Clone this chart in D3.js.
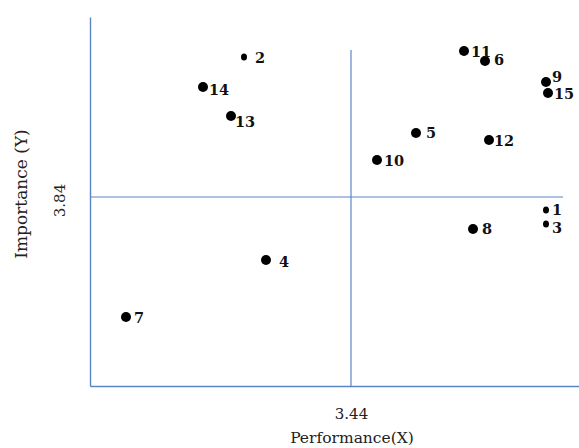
<!DOCTYPE html>
<html>
<head>
<meta charset="utf-8">
<script src="https://cdn.jsdelivr.net/npm/d3@7"></script>
<style>
  body { margin: 0; background: #fff; }
  svg { display: block; }
</style>
</head>
<body>
<svg id="chart"></svg>
<script>
// item numbers and their mean scores
const items       = ["1", "2", "3", "4", "5", "6", "7", "8", "9", "10", "11", "12", "13", "14", "15"];
const performance = [3.83, 3.226, 3.83, 3.27, 3.57, 3.708, 2.99, 3.684, 3.83, 3.492, 3.666, 3.716, 3.20, 3.144, 3.834];
const importance  = [3.814, 4.12, 3.786, 3.714, 3.968, 4.112, 3.60, 3.776, 4.07, 3.914, 4.132, 3.954, 4.002, 4.06, 4.048];
const meanX = 3.44;
const meanY = 3.84;
const xTickLabels = ["3.44"];
const yTickLabels = ["3.84"];

const width = 579, height = 448;
const axisColor = "#5b86c6";

const svg = d3.select("#chart")
    .attr("width", width)
    .attr("height", height);

const xscale = d3.scaleLinear()
    .domain([2.918, 3.896])
    .range([90, 579]);

const yscale = d3.scaleLinear()
    .domain([3.462, 4.2])
    .range([386, 17]);

const data = items.map((d, i) => ({ id: d, x: performance[i], y: importance[i] }));

// axes
const xaxis = d3.axisBottom(xscale)
    .tickValues([meanX])
    .tickFormat((d, i) => xTickLabels[i])
    .tickSize(0)
    .tickPadding(22);

const yaxis = d3.axisLeft(yscale)
    .tickValues([meanY])
    .tickFormat((d, i) => yTickLabels[i])
    .tickSize(0)
    .tickPadding(0);

const xg = svg.append("g")
    .attr("transform", `translate(0, ${yscale.range()[0]})`)
    .call(xaxis);

const yg = svg.append("g")
    .attr("transform", `translate(${xscale.range()[0]}, 0)`)
    .call(yaxis);

[xg, yg].forEach(g => {
    g.select(".domain").attr("stroke", axisColor).attr("stroke-width", 1.4);
    g.selectAll("text")
        .attr("font-family", "DejaVu Serif, serif")
        .attr("font-size", 15)
        .attr("fill", "#222");
});

yg.selectAll(".tick text")
    .attr("transform", "translate(-30, 3) rotate(-90)")
    .attr("text-anchor", "middle")
    .attr("x", 0)
    .attr("dy", "0.35em");

// quadrant lines
svg.append("line")
    .attr("x1", xscale(meanX)).attr("x2", xscale(meanX))
    .attr("y1", yscale.range()[1] + 33).attr("y2", yscale.range()[0])
    .attr("stroke", axisColor).attr("stroke-width", 1.2);

svg.append("line")
    .attr("x1", xscale.range()[0]).attr("x2", xscale.range()[1] - 16)
    .attr("y1", yscale(meanY)).attr("y2", yscale(meanY))
    .attr("stroke", axisColor).attr("stroke-width", 1.2);

// axis titles
svg.append("text")
    .attr("x", xscale(meanX) + 1)
    .attr("y", 443)
    .attr("text-anchor", "middle")
    .attr("font-family", "DejaVu Serif, serif")
    .attr("font-size", 15.5)
    .attr("fill", "#222")
    .text("Performance(X)");

svg.append("text")
    .attr("transform", `translate(27, ${yscale(meanY) - 3}) rotate(-90)`)
    .attr("text-anchor", "middle")
    .attr("font-family", "DejaVu Serif, serif")
    .attr("font-size", 17)
    .attr("fill", "#222")
    .text("Importance (Y)");

// points
const small = new Set(["1", "2", "3"]);
const labelShift = {
    "2": [11, 6], "14": [6, 8], "13": [4, 11], "11": [7, 6], "6": [9, 4],
    "9": [6, 0], "15": [6, 6], "5": [10, 5], "12": [5, 6], "10": [7, 6],
    "1": [6, 5], "3": [6, 9], "8": [9, 5], "4": [13, 7], "7": [8, 6]
};

svg.selectAll("ellipse.pt")
    .data(data)
    .join("ellipse")
    .attr("class", "pt")
    .attr("cx", d => xscale(d.x))
    .attr("cy", d => yscale(d.y))
    .attr("rx", d => small.has(d.id) ? 3 : 5)
    .attr("ry", d => small.has(d.id) ? 3.6 : 5)
    .attr("fill", "#000");

svg.selectAll("text.lbl")
    .data(data)
    .join("text")
    .attr("class", "lbl")
    .attr("x", d => xscale(d.x) + labelShift[d.id][0])
    .attr("y", d => yscale(d.y) + labelShift[d.id][1])
    .attr("font-family", "DejaVu Serif, serif")
    .attr("font-weight", "bold")
    .attr("font-size", 14.5)
    .attr("fill", "#111")
    .text(d => d.id);
</script>
</body>
</html>
